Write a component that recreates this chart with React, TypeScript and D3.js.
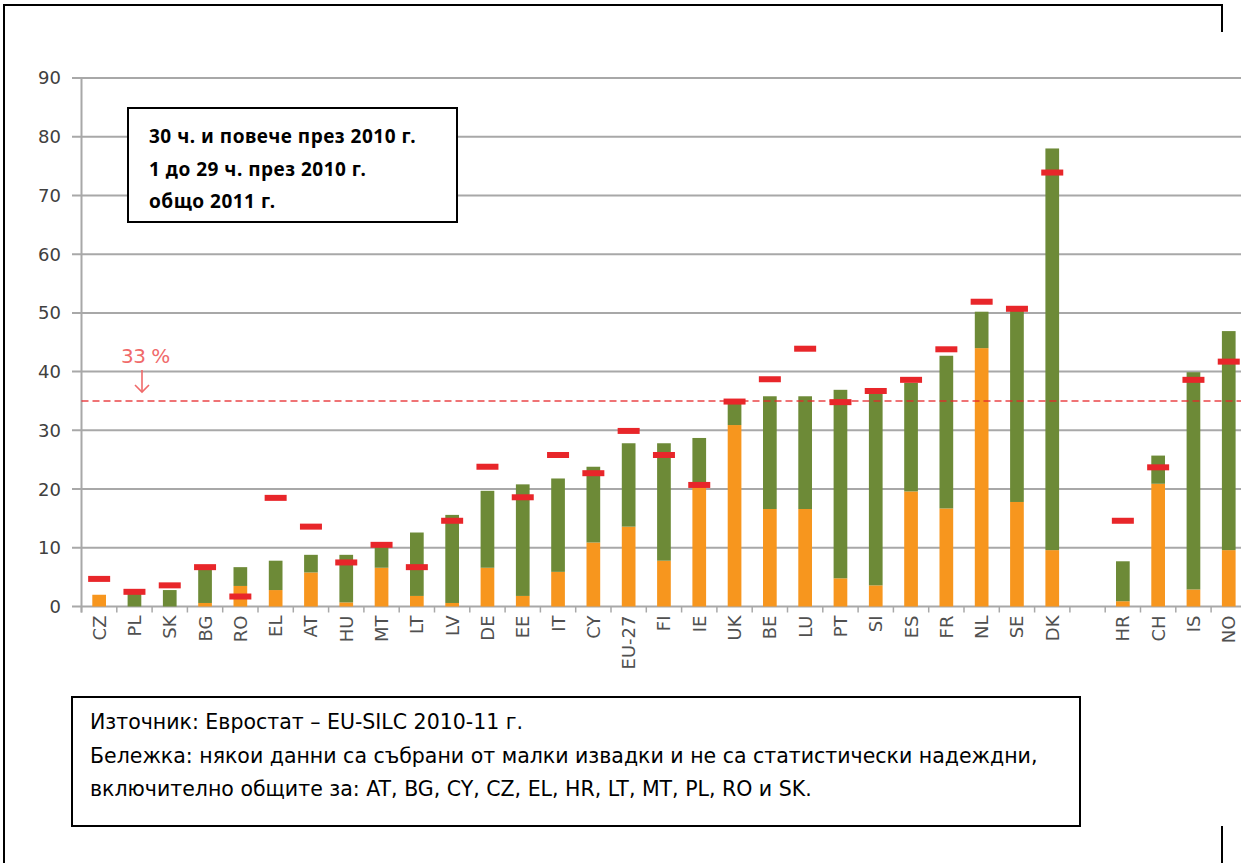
import React from "react";
import * as d3 from "d3";

// ---- data ----
const categories = ["CZ","PL","SK","BG","RO","EL","AT","HU","MT","LT","LV","DE","EE","IT","CY","EU-27","FI","IE","UK","BE","LU","PT","SI","ES","FR","NL","SE","DK","","HR","CH","IS","NO"];
// 30 hours and more, 2010
const hours30plus: (number | null)[] = [2,0,0,0.6,3.5,2.8,5.8,0.7,6.6,1.8,0.6,6.6,1.8,5.9,10.9,13.6,7.8,20.4,30.9,16.6,16.6,4.8,3.6,19.6,16.7,44,17.8,9.6,null,0.9,20.9,2.9,9.6];
// 1 to 29 hours, 2010
const hours1to29: (number | null)[] = [0,2.2,2.8,5.8,3.2,5.0,3.0,8.1,4.2,10.8,15.0,13.1,19.0,15.9,12.9,14.2,20.0,8.3,3.7,19.2,19.2,32.1,32.6,18.5,26.0,6.2,32.8,68.4,null,6.8,4.8,37.0,37.3];
// total 2011
const total2011: (number | null)[] = [4.7,2.5,3.6,6.7,1.7,18.5,13.6,7.5,10.5,6.7,14.6,23.8,18.6,25.8,22.7,29.9,25.8,20.7,34.9,38.7,43.9,34.8,36.7,38.6,43.8,51.9,50.7,73.9,null,14.6,23.7,38.6,41.7];
const yTicks = [0,10,20,30,40,50,60,70,80,90];
const targetValue = 35;
const targetLabel = "33 %";
const legendLines = ["30 ч. и повече през 2010 г.", "1 до 29 ч. през 2010 г.", "общо 2011 г."];
const footerLines = [
  "Източник: Евростат – EU-SILC 2010-11 г.",
  "Бележка: някои данни са събрани от малки извадки и не са статистически надеждни,",
  "включително общите за: AT, BG, CY, CZ, EL, HR, LT, MT, PL, RO и SK.",
];

const ORANGE = "#f7961e";
const GREEN = "#6d8a37";
const RED = "#e8262a";
const GRID = "#a8a8a8";

export default function App() {
  const W = 1241, H = 863;
  const keys = categories.map((c, i) => c === "" ? `gap${i}` : c);
  const x = d3.scaleBand<string>().domain(keys).range([81.5, 81.5 + 35.3 * keys.length]).padding(0);
  const y = d3.scaleLinear().domain([0, 90]).range([606.5, 78]);
  const bw = x.bandwidth();
  const barW = 13.7;
  const markW = 22;
  const markH = 6;
  const axisX = 81.5;

  const boundaries = keys.map(k => x(k)!).concat([x(keys[keys.length - 1])! + bw]);
  const font = "'DejaVu Sans', Verdana, sans-serif";

  return (
    <svg width={W} height={H} style={{ position: "absolute", left: 0, top: 0, background: "#fff" }}>
      <rect x={0} y={0} width={W} height={H} fill="#fff" />
      {/* page frame */}
      <line x1={3} y1={5} x2={1223} y2={5} stroke="#000" strokeWidth={2} />
      <line x1={4} y1={4} x2={4} y2={863} stroke="#000" strokeWidth={2} />
      <line x1={1222} y1={4} x2={1222} y2={32} stroke="#000" strokeWidth={2} />
      <line x1={1222} y1={826} x2={1222} y2={863} stroke="#000" strokeWidth={2} />

      {/* gridlines + y ticks */}
      {yTicks.map(t => (
        <g key={t}>
          <line x1={72} x2={W} y1={y(t)} y2={y(t)} stroke={GRID} strokeWidth={2} />
          <text x={61} y={y(t)} dy="0.36em" textAnchor="end" fontFamily={font} fontSize={18} fill="#404040">{t}</text>
        </g>
      ))}
      {/* y axis */}
      <line x1={axisX} x2={axisX} y1={y(90)} y2={y(0) + 6} stroke={GRID} strokeWidth={2} />
      {/* x ticks */}
      {boundaries.map((b, i) => (
        <line key={i} x1={b} x2={b} y1={y(0)} y2={y(0) + 6} stroke={GRID} strokeWidth={1.5} />
      ))}

      {/* bars */}
      {keys.map((k, i) => {
        const o = hours30plus[i];
        const g = hours1to29[i];
        if (o == null || g == null) return null;
        const cx = x(k)! + bw / 2;
        return (
          <g key={k}>
            <rect x={cx - barW / 2} y={y(o)} width={barW} height={y(0) - y(o)} fill={ORANGE} />
            <rect x={cx - barW / 2} y={y(o + g)} width={barW} height={y(o) - y(o + g)} fill={GREEN} />
          </g>
        );
      })}

      {/* threshold */}
      <line x1={axisX} x2={W} y1={y(targetValue)} y2={y(targetValue)} stroke={RED} strokeWidth={1.5} strokeDasharray="7,4" opacity={0.85} />
      <text x={121} y={363} fontFamily={font} fontSize={20} letterSpacing={-0.5} fill="#f06a6a">{targetLabel}</text>
      <g stroke="#f06a6a" strokeWidth={1.6} fill="none">
        <line x1={142} x2={142} y1={370} y2={392} />
        <polyline points="135,385 142,392 149,385" />
      </g>

      {/* 2011 markers */}
      {keys.map((k, i) => {
        const v = total2011[i];
        if (v == null) return null;
        const cx = x(k)! + bw / 2;
        return <rect key={"m" + k} x={cx - markW / 2} y={y(v) - markH / 2} width={markW} height={markH} fill={RED} />;
      })}

      {/* x labels */}
      {keys.map((k, i) => categories[i] === "" ? null : (
        <text key={"l" + k} transform={`translate(${x(k)! + bw / 2},${y(0) + 9}) rotate(-90)`} textAnchor="end" dy="0.36em"
          fontFamily={font} fontSize={18} fill="#505050">{categories[i]}</text>
      ))}

      {/* legend box */}
      <rect x={128} y={108} width={329} height={114} fill="#fff" stroke="#000" strokeWidth={2} />
      {legendLines.map((t, i) => (
        <text key={t} x={149} y={143 + i * 32.5} fontFamily="'Noto Sans', 'Open Sans', sans-serif" fontWeight={700} fontSize={19} letterSpacing={0.5} fill="#000">{t}</text>
      ))}

      {/* footer box */}
      <rect x={72} y={697} width={1008} height={129} fill="#fff" stroke="#000" strokeWidth={2} />
      {footerLines.map((t, i) => (
        <text key={i} x={90} y={729 + i * 33.5} fontFamily={font} fontSize={20.5} fill="#000">{t}</text>
      ))}
    </svg>
  );
}
